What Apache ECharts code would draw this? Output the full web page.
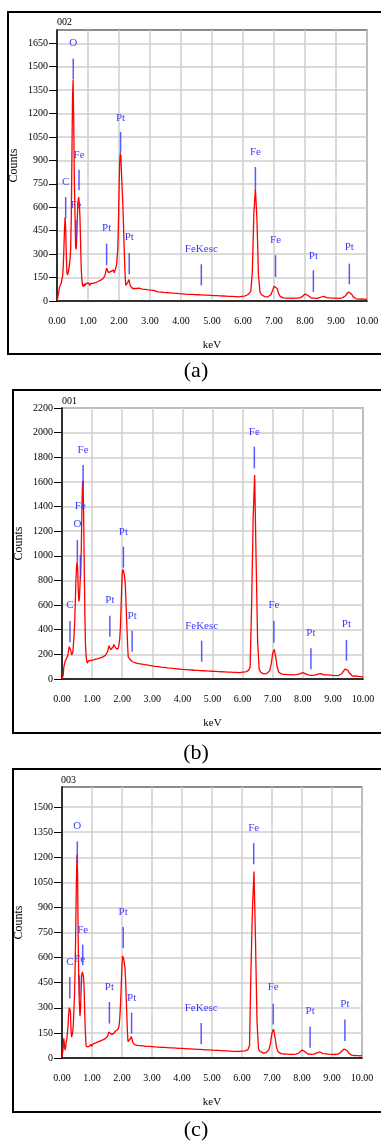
<!DOCTYPE html>
<html>
<head>
<meta charset="utf-8">
<script src="https://cdn.jsdelivr.net/npm/echarts@6.0.0/dist/echarts.min.js"></script>
<style>
  html, body { margin: 0; padding: 0; background: #fff; }
  #chart { width: 381px; height: 1142px; }
</style>
</head>
<body>
<div id="chart"></div>
<script>
// channel energies (keV)
const kevLow = [
  0, 0.02, 0.04, 0.06, 0.08, 0.1, 0.12, 0.14, 0.16, 0.18,
  0.2, 0.22, 0.24, 0.26, 0.28, 0.3, 0.32, 0.34, 0.36, 0.38,
  0.4, 0.42, 0.44, 0.46, 0.48, 0.5, 0.52, 0.54, 0.56, 0.58,
  0.6, 0.62, 0.64, 0.66, 0.68, 0.7, 0.72, 0.74, 0.76, 0.78,
  0.8, 0.82, 0.84, 0.86, 0.88, 0.9, 0.92, 0.94, 0.96, 0.98,
  1, 1.02, 1.04, 1.06, 1.08, 1.1, 1.12, 1.14, 1.16, 1.18,
  1.2, 1.22, 1.24, 1.26, 1.28, 1.3, 1.32, 1.34, 1.36, 1.38,
  1.4, 1.42, 1.44, 1.46, 1.48, 1.5, 1.52, 1.54, 1.56, 1.58,
  1.6, 1.62, 1.64, 1.66, 1.68, 1.7, 1.72, 1.74, 1.76, 1.78,
  1.8, 1.82, 1.84, 1.86, 1.88, 1.9, 1.92, 1.94, 1.96, 1.98,
  2, 2.02, 2.04, 2.06, 2.08, 2.1, 2.12, 2.14, 2.16, 2.18,
  2.2, 2.22, 2.24, 2.26, 2.28, 2.3, 2.32, 2.34, 2.36, 2.38,
  2.4, 2.42, 2.44, 2.46, 2.48, 2.5
];
const kevHigh = [
  2.55, 2.6, 2.65, 2.7, 2.75, 2.8, 2.85, 2.9, 2.95, 3,
  3.05, 3.1, 3.15, 3.2, 3.25, 3.3, 3.35, 3.4, 3.45, 3.5,
  3.55, 3.6, 3.65, 3.7, 3.75, 3.8, 3.85, 3.9, 3.95, 4,
  4.05, 4.1, 4.15, 4.2, 4.25, 4.3, 4.35, 4.4, 4.45, 4.5,
  4.55, 4.6, 4.65, 4.7, 4.75, 4.8, 4.85, 4.9, 4.95, 5,
  5.05, 5.1, 5.15, 5.2, 5.25, 5.3, 5.35, 5.4, 5.45, 5.5,
  5.55, 5.6, 5.65, 5.7, 5.75, 5.8, 5.85, 5.9, 5.95, 6,
  6.05, 6.1, 6.15, 6.2, 6.25, 6.3, 6.35, 6.4, 6.45, 6.5,
  6.55, 6.6, 6.65, 6.7, 6.75, 6.8, 6.85, 6.9, 6.95, 7,
  7.05, 7.1, 7.15, 7.2, 7.25, 7.3, 7.35, 7.4, 7.45, 7.5,
  7.55, 7.6, 7.65, 7.7, 7.75, 7.8, 7.85, 7.9, 7.95, 8,
  8.05, 8.1, 8.15, 8.2, 8.25, 8.3, 8.35, 8.4, 8.45, 8.5,
  8.55, 8.6, 8.65, 8.7, 8.75, 8.8, 8.85, 8.9, 8.95, 9,
  9.05, 9.1, 9.15, 9.2, 9.25, 9.3, 9.35, 9.4, 9.45, 9.5,
  9.55, 9.6, 9.65, 9.7, 9.75, 9.8, 9.85, 9.9, 9.95, 10
];

// spectrum 002 (a)
const countsALow = [
  0, 0, 5, 60, 88, 92, 105, 118, 130, 160,
  215, 320, 450, 534, 470, 300, 185, 165, 172, 200,
  230, 265, 330, 520, 900, 1300, 1415, 1150, 760, 560,
  350, 330, 420, 560, 640, 666, 620, 540, 380, 220,
  140, 105, 92, 98, 110, 96, 104, 112, 100, 108,
  102, 115, 106, 99, 112, 108, 118, 104, 113, 109,
  120, 111, 117, 108, 122, 116, 125, 114, 128, 121,
  132, 124, 138, 130, 142, 136, 150, 160, 175, 192,
  210, 214, 200, 182, 188, 172, 180, 190, 178, 195,
  188, 198, 180, 192, 200, 205, 230, 280, 330, 480,
  700, 880, 945, 930, 820, 720, 640, 520, 380, 260,
  150, 100, 95, 105, 118, 130, 137, 120, 98, 90,
  86, 92, 80, 88, 78, 84
];
const countsAHigh = [
  80, 74, 82, 71, 76, 68, 74, 66, 71, 63,
  69, 61, 66, 70, 59, 64, 57, 63, 55, 60,
  54, 58, 52, 57, 50, 55, 49, 53, 47, 52,
  46, 50, 44, 49, 43, 48, 42, 46, 41, 45,
  40, 44, 39, 43, 38, 42, 37, 41, 36, 40,
  35, 39, 34, 38, 33, 37, 32, 36, 31, 35,
  30, 34, 29, 33, 28, 32, 27, 33, 29, 34,
  31, 36, 40, 45, 60, 180, 560, 720, 520, 160,
  55, 40, 32, 28, 25, 27, 30, 40, 65, 95,
  105, 80, 48, 30, 24, 20, 24, 19, 23, 18,
  22, 17, 21, 18, 22, 19, 23, 26, 35, 45,
  48, 35, 24, 19, 22, 18, 21, 17, 22, 24,
  28, 30, 27, 22, 18, 20, 16, 19, 15, 18,
  14, 17, 15, 20, 24, 32, 45, 58, 60, 45,
  28, 18, 14, 17, 12, 16, 13, 15, 11, 14
];

// spectrum 001 (b)
const countsBLow = [
  0, 0, 30, 95, 120, 140, 150, 162, 170, 182,
  200, 235, 262, 276, 268, 225, 195, 190, 215, 280,
  357, 450, 600, 780, 900, 952, 900, 720, 630, 660,
  780, 850, 1050, 1350, 1580, 1610, 1300, 900, 520, 280,
  190, 150, 128, 135, 148, 140, 152, 138, 150, 145,
  156, 142, 155, 148, 160, 150, 162, 147, 158, 152,
  165, 155, 168, 160, 172, 163, 175, 168, 180, 172,
  185, 178, 192, 183, 198, 205, 225, 248, 270, 281,
  265, 238, 228, 222, 240, 262, 280, 287, 270, 252,
  245, 255, 238, 242, 258, 290, 330, 420, 560, 720,
  850, 890, 905, 860, 830, 780, 660, 530, 400, 270,
  180, 165, 172, 158, 162, 150, 156, 140, 148, 136,
  142, 132, 138, 128, 135, 126
];
const countsBHigh = [
  131, 122, 128, 118, 124, 114, 120, 110, 116, 106,
  112, 102, 109, 100, 106, 97, 103, 95, 100, 91,
  97, 88, 94, 86, 91, 83, 88, 81, 86, 78,
  84, 76, 82, 74, 80, 73, 78, 71, 77, 70,
  75, 68, 74, 67, 72, 66, 71, 64, 70, 63,
  68, 62, 67, 60, 65, 59, 64, 58, 63, 56,
  62, 55, 60, 54, 59, 53, 58, 52, 60, 55,
  62, 58, 66, 70, 95, 600, 1300, 1656, 950, 300,
  80, 55, 45, 42, 40, 44, 50, 68, 120, 210,
  240, 180, 95, 55, 45, 40, 44, 38, 42, 36,
  40, 35, 39, 34, 38, 36, 40, 42, 48, 52,
  51, 42, 36, 32, 35, 30, 34, 31, 36, 40,
  42, 44, 40, 34, 30, 33, 28, 31, 26, 29,
  25, 28, 26, 30, 36, 45, 60, 80, 87, 70,
  48, 32, 24, 20, 25, 18, 22, 16, 20, 15
];

// spectrum 003 (c)
const countsCLow = [
  0, 0, 60, 118, 80, 48, 62, 95, 110, 150,
  190, 255, 300, 311, 280, 170, 125, 140, 160, 210,
  300, 395, 560, 800, 1050, 1215, 1100, 700, 450, 320,
  250, 300, 420, 500, 514, 500, 480, 400, 250, 150,
  80, 68, 62, 70, 76, 68, 78, 72, 82, 70,
  80, 74, 85, 76, 88, 80, 90, 83, 93, 84,
  96, 88, 98, 90, 102, 94, 104, 96, 108, 100,
  112, 104, 116, 108, 118, 122, 130, 142, 155, 165,
  160, 150, 142, 150, 140, 148, 145, 155, 148, 160,
  152, 165, 158, 170, 175, 190, 225, 280, 360, 460,
  560, 610, 618, 590, 560, 540, 460, 360, 260, 160,
  98, 92, 96, 105, 115, 128, 135, 110, 92, 85,
  88, 80, 86, 78, 84, 76
];
const countsCHigh = [
  82, 74, 80, 72, 78, 70, 76, 69, 75, 68,
  74, 66, 72, 65, 71, 64, 70, 63, 69, 62,
  67, 61, 66, 60, 65, 59, 64, 58, 63, 57,
  62, 56, 61, 55, 60, 54, 59, 53, 58, 52,
  57, 51, 56, 50, 55, 49, 54, 48, 53, 47,
  52, 46, 51, 45, 50, 44, 49, 43, 48, 42,
  47, 41, 46, 40, 45, 40, 44, 39, 45, 41,
  46, 43, 48, 50, 75, 540, 900, 1115, 700, 220,
  55, 40, 33, 30, 28, 31, 36, 50, 90, 150,
  172, 125, 65, 38, 30, 26, 29, 24, 28, 23,
  27, 22, 26, 22, 25, 23, 27, 30, 38, 48,
  50, 38, 28, 24, 27, 22, 26, 23, 28, 31,
  34, 36, 32, 26, 22, 25, 20, 23, 19, 22,
  18, 21, 19, 23, 28, 36, 45, 54, 56, 45,
  32, 22, 17, 20, 15, 19, 14, 18, 13, 16
];

// peak markers: name, energy, line bottom/top (counts), label level (counts)
const peakNamesA = ['C', 'O', 'Fe', 'Fe', 'Pt', 'Pt', 'Pt', 'FeKesc', 'Fe', 'Fe', 'Pt', 'Pt'];
const peakKevA = [0.28, 0.525, 0.71, 0.61, 1.6, 2.05, 2.33, 4.655, 6.4, 7.05, 8.27, 9.43];
const peakLoA = [528, 1417, 709, 389, 229, 948, 171, 100, 720, 154, 58, 107];
const peakHiA = [666, 1552, 841, 517, 367, 1082, 307, 235, 858, 293, 197, 239];
const peakLabelA = [762, 1652, 933, 613, 467, 1174, 406, 331, 954, 389, 288, 346];

const peakNamesB = ['C', 'O', 'Fe', 'Fe', 'Pt', 'Pt', 'Pt', 'FeKesc', 'Fe', 'Fe', 'Pt', 'Pt'];
const peakKevB = [0.265, 0.51, 0.61, 0.7, 1.59, 2.04, 2.33, 4.64, 6.39, 7.04, 8.27, 9.45];
const peakLoB = [298, 952, 817, 1561, 343, 904, 222, 140, 1710, 295, 79, 149];
const peakHiB = [471, 1128, 1006, 1737, 514, 1074, 392, 311, 1886, 471, 249, 317];
const peakLabelB = [600, 1258, 1404, 1859, 641, 1196, 514, 433, 2007, 600, 371, 447];

const peakNamesC = ['C', 'O', 'Fe', 'Fe', 'Pt', 'Pt', 'Pt', 'FeKesc', 'Fe', 'Fe', 'Pt', 'Pt'];
const peakKevC = [0.26, 0.51, 0.69, 0.585, 1.58, 2.04, 2.32, 4.64, 6.39, 7.04, 8.27, 9.43];
const peakLoC = [355, 1168, 554, 371, 206, 658, 146, 82, 1158, 201, 62, 102];
const peakHiC = [484, 1295, 678, 494, 335, 783, 271, 209, 1285, 325, 189, 230];
const peakLabelC = [574, 1387, 763, 594, 424, 873, 361, 301, 1375, 421, 281, 321];

// axes
const xTicks = [0, 1, 2, 3, 4, 5, 6, 7, 8, 9, 10];
const yTicksA = [0, 150, 300, 450, 600, 750, 900, 1050, 1200, 1350, 1500, 1650];
const yTicksB = [0, 200, 400, 600, 800, 1000, 1200, 1400, 1600, 1800, 2000, 2200];
const yTicksC = [0, 150, 300, 450, 600, 750, 900, 1050, 1200, 1350, 1500];
const yMaxA = 1735;
const yMaxB = 2200;
const yMaxC = 1620;
const sampleIds = ['002', '001', '003'];
const captions = ['(a)', '(b)', '(c)'];

const kev = kevLow.concat(kevHigh);
const spectra = [
  countsALow.concat(countsAHigh),
  countsBLow.concat(countsBHigh),
  countsCLow.concat(countsCHigh)
];
const peaks = [
  [peakNamesA, peakKevA, peakLoA, peakHiA, peakLabelA],
  [peakNamesB, peakKevB, peakLoB, peakHiB, peakLabelB],
  [peakNamesC, peakKevC, peakLoC, peakHiC, peakLabelC]
];
const yTicks = [yTicksA, yTicksB, yTicksC];
const yMax = [yMaxA, yMaxB, yMaxC];

const SERIF = '"Liberation Serif", "Times New Roman", serif';
const BLUE = '#3c3cff';

// layout of the three panels (pixels)
const layout = [
  { left: 57, top: 30, width: 310, height: 271, box: [8, 12, 380, 342], id: [57, 22], cap: 371 },
  { left: 62, top: 408, width: 301, height: 271, box: [13, 390, 380, 343], id: [62, 401], cap: 753 },
  { left: 62, top: 787, width: 300, height: 271, box: [13, 769, 380, 343], id: [61, 780], cap: 1130 }
];

const chart = echarts.init(document.getElementById('chart'));

const grid = [], xAxis = [], yAxis = [], series = [], graphic = [];

layout.forEach((g, i) => {
  grid.push({
    left: g.left, top: g.top, width: g.width, height: g.height,
    show: true, borderColor: '#666', borderWidth: 1.5,
    outerBoundsMode: 'none'
  });
  xAxis.push({
    gridIndex: i, type: 'value', min: 0, max: 10, interval: 1,
    name: 'keV', nameLocation: 'middle', nameGap: 38.5, nameMoveOverlap: false,
    nameTextStyle: { fontFamily: SERIF, fontSize: 11, color: '#000' },
    axisLine: { lineStyle: { color: '#000', width: 1.5 } },
    axisTick: { show: false },
    axisLabel: {
      margin: 15, fontFamily: SERIF, fontSize: 10, color: '#000',
      customValues: xTicks, formatter: v => v.toFixed(2)
    },
    splitLine: { show: true, lineStyle: { color: '#cfcfcf', width: 1.5 } }
  });
  yAxis.push({
    gridIndex: i, type: 'value', min: 0, max: yMax[i],
    name: 'Counts', nameLocation: 'middle', nameGap: 37, nameRotate: 90, nameMoveOverlap: false,
    nameTextStyle: { fontFamily: SERIF, fontSize: 12, color: '#000' },
    axisLine: { show: true, lineStyle: { color: '#000', width: 1.5 } },
    axisTick: { show: true, length: 8, customValues: yTicks[i], lineStyle: { color: '#000', width: 1 } },
    axisLabel: {
      margin: 9, fontFamily: SERIF, fontSize: 10, color: '#000',
      customValues: yTicks[i], formatter: v => String(v)
    },
    splitLine: { show: true, lineStyle: { color: '#cfcfcf', width: 1.5 } }
  });

  series.push({
    type: 'line', xAxisIndex: i, yAxisIndex: i,
    data: kev.map((e, k) => [e, spectra[i][k]]),
    showSymbol: false, symbol: 'none',
    lineStyle: { color: '#ff0000', width: 1.3 },
    z: 2, animation: false
  });

  const [names, pk, lo, hi, lab] = peaks[i];
  series.push({
    type: 'custom', xAxisIndex: i, yAxisIndex: i,
    data: pk.map((e, k) => [e, lo[k], hi[k], lab[k]]),
    clip: false, z: 3, animation: false,
    renderItem: (params, api) => {
      const p1 = api.coord([api.value(0), api.value(1)]);
      const p2 = api.coord([api.value(0), api.value(2)]);
      const p3 = api.coord([api.value(0), api.value(3)]);
      return {
        type: 'group',
        children: [
          { type: 'line', shape: { x1: p1[0], y1: p1[1], x2: p2[0], y2: p2[1] },
            style: { stroke: BLUE, lineWidth: 1.5, opacity: 0.85 } },
          { type: 'text', style: { text: names[params.dataIndex], x: p3[0], y: p3[1],
            align: 'center', verticalAlign: 'middle', fill: BLUE, font: '11px ' + SERIF } }
        ]
      };
    }
  });

  graphic.push({
    type: 'rect', shape: { x: g.box[0], y: g.box[1], width: g.box[2], height: g.box[3] },
    style: { fill: 'none', stroke: '#000', lineWidth: 2 }, silent: true
  });
  graphic.push({
    type: 'text', x: g.id[0], y: g.id[1],
    style: { text: sampleIds[i], font: '10px ' + SERIF, fill: '#000', verticalAlign: 'middle' }
  });
  graphic.push({
    type: 'text', x: 196, y: g.cap,
    style: { text: captions[i], font: '22px ' + SERIF, fill: '#000', align: 'center', verticalAlign: 'middle' }
  });
});

chart.setOption({
  backgroundColor: '#fff',
  animation: false,
  grid, xAxis, yAxis, series, graphic
});
</script>
</body>
</html>
